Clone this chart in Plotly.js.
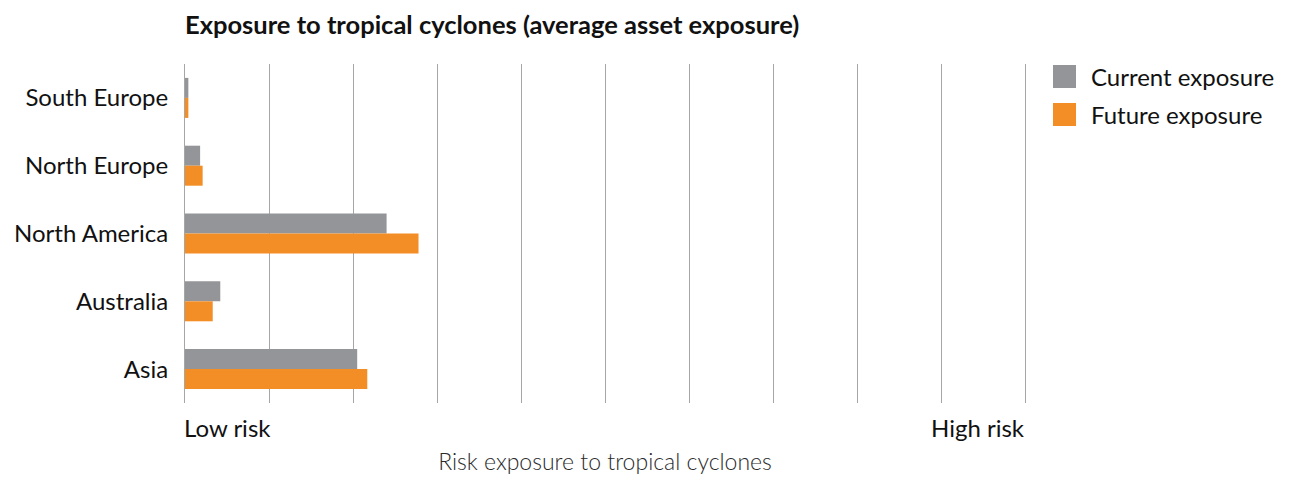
<!DOCTYPE html>
<html>
<head>
<meta charset="utf-8">
<script src="https://cdn.plot.ly/plotly-3.0.1.min.js"></script>
<style>
  html, body { margin: 0; padding: 0; background: #ffffff; }
  #chart { width: 1293px; height: 477px; }
</style>
</head>
<body>
<div id="chart"></div>
<script>
// Regions, top to bottom
const regions = ["South Europe", "North Europe", "North America", "Australia", "Asia"];
// Average asset exposure on a 0 (low risk) to 10 (high risk) scale
const currentExposure = [0.04, 0.18, 2.40, 0.42, 2.05];
const futureExposure  = [0.04, 0.21, 2.78, 0.33, 2.17];
const seriesNames = ["Current exposure", "Future exposure"];
const seriesColors = ["#949599", "#F38D26"];
const scaleLabels = ["Low risk", "High risk"];

const FONT = "Lato, 'Open Sans', sans-serif";
const GRID = "#a6a6a6";

const traces = [currentExposure, futureExposure].map((vals, i) => ({
  type: "bar",
  orientation: "h",
  name: seriesNames[i],
  y: regions,
  x: vals,
  marker: { color: seriesColors[i], line: { width: 0 } },
  showlegend: false,
  hoverinfo: "x+name"
}));

// Hand-built legend: large square swatches with labels
const legendShapes = [];
const legendNotes = [];
seriesNames.forEach((name, i) => {
  const top = 65 + i * 38;
  legendShapes.push({
    type: "rect", xref: "paper", yref: "paper",
    x0: (1053 - 185) / 840, x1: (1076 - 185) / 840,
    y0: (403 - top) / 339, y1: (403 - top - 23) / 339,
    fillcolor: seriesColors[i], line: { width: 0 }
  });
  legendNotes.push({
    xref: "paper", yref: "paper",
    x: (1089 - 185) / 840, y: (403 - top - 11.5) / 339,
    xanchor: "left", yanchor: "middle",
    text: name, showarrow: false,
    font: { family: FONT, size: 24, color: "#111111" }
  });
});

const layout = {
  width: 1293,
  height: 477,
  paper_bgcolor: "#ffffff",
  plot_bgcolor: "#ffffff",
  margin: { l: 185, r: 268, t: 64, b: 74 },
  barmode: "group",
  bargap: 0.41,
  bargroupgap: 0,
  title: {
    text: "<b>Exposure to tropical cyclones (average asset exposure)</b>",
    x: 185 / 1293, xanchor: "left",
    y: 1 - 25 / 477, yanchor: "middle",
    font: { family: FONT, size: 25.5, color: "#111111" }
  },
  xaxis: {
    range: [0, 10],
    tickvals: [0, 1, 2, 3, 4, 5, 6, 7, 8, 9, 10],
    showticklabels: false,
    showgrid: true,
    gridcolor: GRID,
    gridwidth: 1,
    zeroline: false,
    showline: false,
    ticks: "",
    automargin: false,
    fixedrange: true,
    title: {
      text: "Risk exposure to tropical cyclones",
      standoff: 50,
      font: { family: FONT, size: 23, color: "#2a2a2a", weight: 300 }
    }
  },
  yaxis: {
    type: "category",
    autorange: "reversed",
    showgrid: false,
    zeroline: false,
    showline: true,
    mirror: true,
    linecolor: GRID,
    linewidth: 1,
    ticks: "",
    ticklabelstandoff: 11,
    tickfont: { family: FONT, size: 24, color: "#111111" },
    automargin: false,
    fixedrange: true
  },
  shapes: legendShapes,
  annotations: [
    {
      xref: "x", yref: "paper", x: 0, y: 0, yshift: -24, xshift: -3,
      xanchor: "left", yanchor: "middle",
      text: scaleLabels[0], showarrow: false,
      font: { family: FONT, size: 24, color: "#111111" }
    },
    {
      xref: "x", yref: "paper", x: 10, y: 0, yshift: -24, xshift: 2,
      xanchor: "right", yanchor: "middle",
      text: scaleLabels[1], showarrow: false,
      font: { family: FONT, size: 24, color: "#111111" }
    }
  ].concat(legendNotes)
};

Plotly.newPlot("chart", traces, layout, { displayModeBar: false, responsive: false });
</script>
</body>
</html>
